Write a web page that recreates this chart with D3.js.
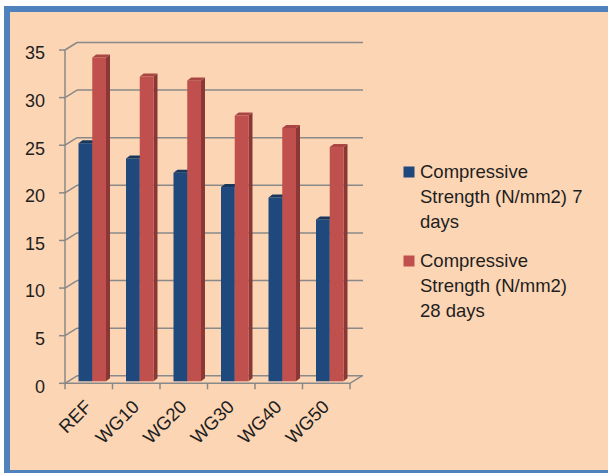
<!DOCTYPE html>
<html>
<head>
<meta charset="utf-8">
<script src="https://cdn.jsdelivr.net/npm/d3@7"></script>
<style>
  html, body { margin: 0; padding: 0; background: #ffffff; }
  svg { display: block; }
</style>
</head>
<body>
<svg id="chart" width="608" height="473"></svg>
<script>
// Compressive strength of mixes (N/mm2)
const categories = ["REF", "WG10", "WG20", "WG30", "WG40", "WG50"];
const strength7 = [25.0, 23.4, 21.9, 20.4, 19.3, 17.0];
const strength28 = [34.0, 32.0, 31.6, 27.9, 26.6, 24.6];
const seriesNames = ["Compressive Strength (N/mm2) 7 days", "Compressive Strength (N/mm2) 28 days"];
const legendLines = [
  ["Compressive", "Strength (N/mm2) 7", "days"],
  ["Compressive", "Strength (N/mm2)", "28 days"]
];
const yTicks = [0, 5, 10, 15, 20, 25, 30, 35];

const seriesColors = [
  { front: "#1F497D", top: "#17375E", side: "#142F52" },
  { front: "#C0504D", top: "#A94643", side: "#8A3735" }
];

const svg = d3.select("#chart");
const font = "'Liberation Sans', Arial, sans-serif";
const textColor = "#1e1e1e";
const gridColor = "#898989";

// Chart area with frame
svg.append("rect")
  .attr("x", 7).attr("y", 9)
  .attr("width", 640).attr("height", 464)
  .attr("fill", "#FCD5B4")
  .attr("stroke", "#4F81BD")
  .attr("stroke-width", 6);

// Scales
const x = d3.scaleBand().domain(categories).range([65, 350]);
const y = d3.scaleLinear().domain([0, 35]).range([383.3, 50]);

// 3D offsets: back wall depth, bar placement depth, bar thickness
const wallDx = 12, wallDy = -7.5;
const barDx = 3.5, barDy = -2;
const capDx = 4, capDy = -3;
const groupWidth = 27.5;
const s = d3.scaleBand().domain([0, 1]).range([0, groupWidth]);

const grid = svg.append("g")
  .attr("stroke", gridColor)
  .attr("stroke-width", 1.5)
  .attr("fill", "none");

const x0 = x.range()[0], x1 = x.range()[1];

// Back-wall gridlines with side-wall diagonals and tick marks
yTicks.forEach(t => {
  const yy = y(t);
  grid.append("line")
    .attr("x1", x0 + wallDx).attr("y1", yy + wallDy)
    .attr("x2", x1 + wallDx + 1).attr("y2", yy + wallDy);
  grid.append("line")
    .attr("x1", x0).attr("y1", yy)
    .attr("x2", x0 + wallDx).attr("y2", yy + wallDy);
  grid.append("line")
    .attr("x1", x0 - 6).attr("y1", yy)
    .attr("x2", x0).attr("y2", yy);
});

// Front value axis line
grid.append("line")
  .attr("x1", x0).attr("y1", y(0))
  .attr("x2", x0).attr("y2", y(35));

// Floor front and right edges
grid.append("path")
  .attr("d", `M${x0},${y(0)} L${x1},${y(0)} L${x1 + wallDx},${y(0) + wallDy}`);

// Category tick marks
const boundaries = categories.map(c => x(c)).concat([x1]);
boundaries.forEach(b => {
  grid.append("line")
    .attr("x1", b).attr("y1", y(0))
    .attr("x2", b).attr("y2", y(0) + 6);
});

// Value axis labels
svg.append("g")
  .selectAll("text")
  .data(yTicks)
  .join("text")
  .attr("x", 45)
  .attr("y", d => y(d) + 9.3)
  .attr("text-anchor", "end")
  .attr("font-family", font)
  .attr("font-size", 18)
  .attr("fill", textColor)
  .text(d => d);

// Bars
const barsG = svg.append("g");
const series = [strength7, strength28];
categories.forEach((c, i) => {
  const gx = x(c) + x.bandwidth() / 2 - groupWidth / 2 + barDx;
  series.forEach((vals, k) => {
    const bx = gx + s(k);
    const bw = s.bandwidth();
    const top = y(vals[i]) + barDy;
    const base = y(0) + barDy;
    const col = seriesColors[k];
    // side face
    barsG.append("path")
      .attr("d", `M${bx + bw},${top} L${bx + bw + capDx},${top + capDy} L${bx + bw + capDx},${base + capDy} L${bx + bw},${base} Z`)
      .attr("fill", col.side);
    // front face
    barsG.append("rect")
      .attr("x", bx).attr("y", top)
      .attr("width", bw).attr("height", base - top)
      .attr("fill", col.front);
    // top face
    barsG.append("path")
      .attr("d", `M${bx},${top} L${bx + capDx},${top + capDy} L${bx + bw + capDx},${top + capDy} L${bx + bw},${top} Z`)
      .attr("fill", col.top);
  });
});

// Category labels, rotated
svg.append("g")
  .selectAll("text")
  .data(categories)
  .join("text")
  .attr("transform", d => `translate(${x(d) + x.bandwidth() / 2 + 4},${408}) rotate(-45)`)
  .attr("text-anchor", "end")
  .attr("font-family", font)
  .attr("font-size", 18.5)
  .attr("fill", textColor)
  .text(d => d);

// Legend
const legend = svg.append("g");
const legendTops = [166.5, 255.5];
const legendBaselines = [178.4, 267.4];
seriesNames.forEach((name, k) => {
  legend.append("rect")
    .attr("x", 403.5).attr("y", legendTops[k])
    .attr("width", 11).attr("height", 11)
    .attr("fill", seriesColors[k].front);
  const t = legend.append("text")
    .attr("font-family", font)
    .attr("font-size", 18.5)
    .attr("fill", textColor);
  legendLines[k].forEach((line, j) => {
    t.append("tspan")
      .attr("x", 420)
      .attr("y", legendBaselines[k] + j * 25)
      .text(line);
  });
});
</script>
</body>
</html>
